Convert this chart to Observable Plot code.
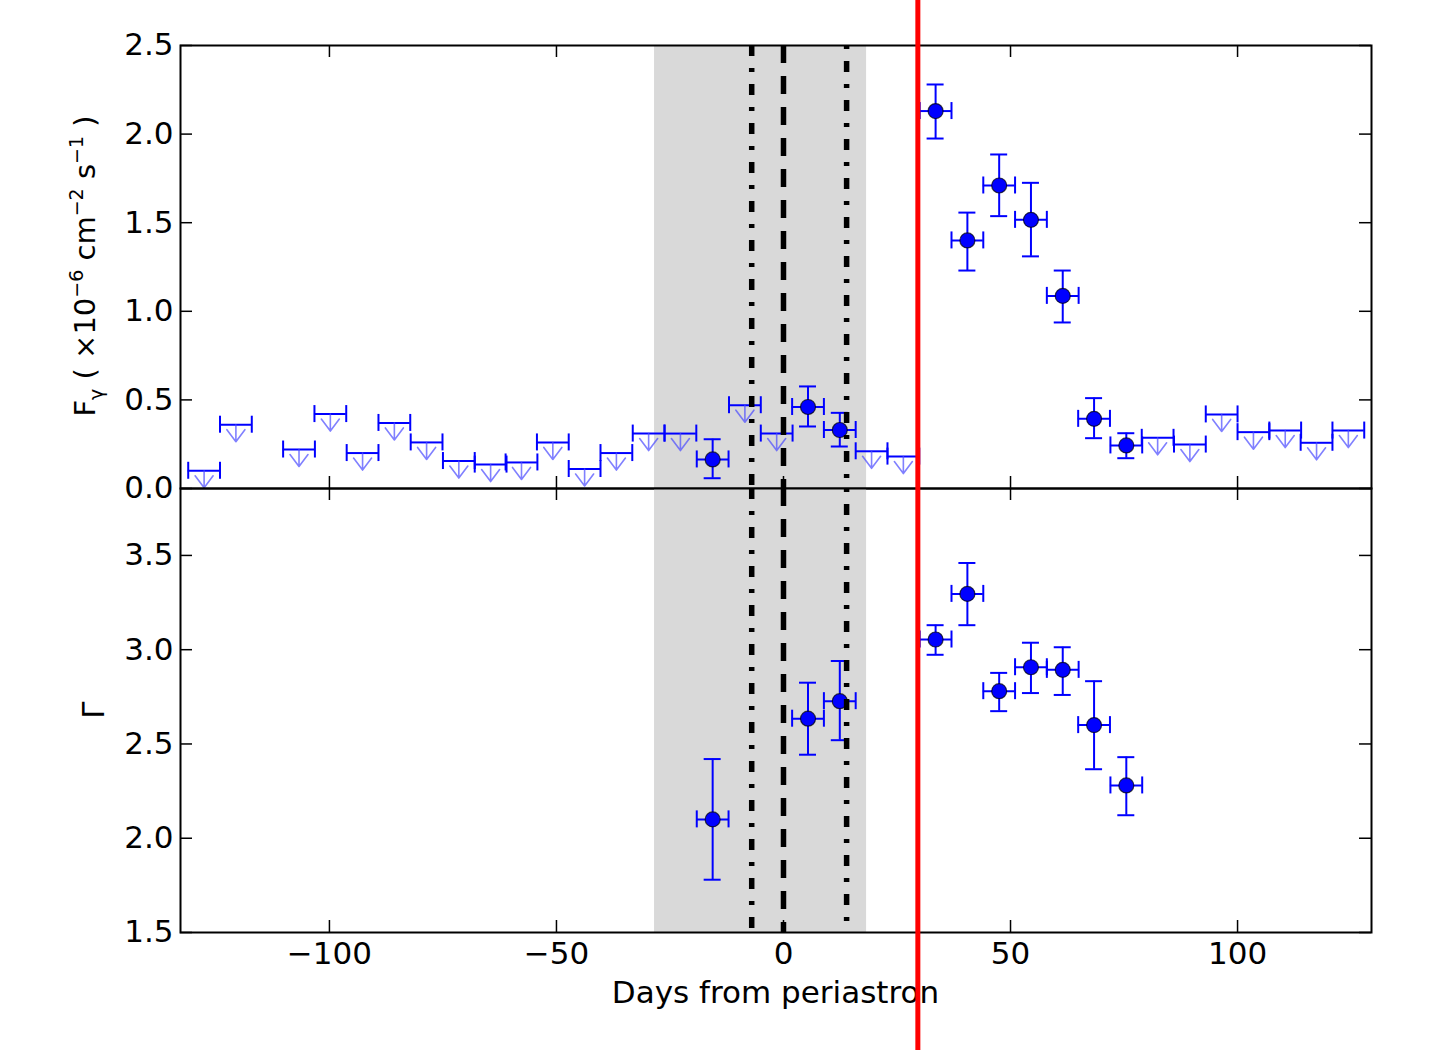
<!DOCTYPE html>
<html><head><meta charset="utf-8">
<script src="https://cdn.jsdelivr.net/npm/d3@7"></script>
<script src="https://cdn.jsdelivr.net/npm/@observablehq/plot@0.6"></script>
<style>
html,body{margin:0;padding:0;background:#fff;}
#wrap{position:relative;width:1449px;height:1050px;overflow:hidden;background:#fff;}
#wrap svg{display:block;}
</style></head><body><div id="wrap"></div>
<script>
// ---- data ----
// upper limits on flux (bin centres, days; values in 1e-6 cm^-2 s^-1)
const ulDays = [-127.6, -120.6, -106.7, -99.8, -92.7, -85.7, -78.6, -71.5, -64.5, -57.7, -50.8, -43.8, -36.8, -29.7, -22.7, -8.5, -1.5, 19.4, 26.4, 82.4, 89.5, 96.5, 103.5, 110.5, 117.4, 124.4];
const ulFlux = [0.10, 0.36, 0.22, 0.42, 0.20, 0.37, 0.26, 0.155, 0.135, 0.147, 0.26, 0.11, 0.20, 0.31, 0.31, 0.47, 0.31, 0.21, 0.18, 0.286, 0.248, 0.418, 0.318, 0.327, 0.258, 0.327];
// detections
const detDays  = [-15.6, 5.4, 12.4, 33.5, 40.5, 47.5, 54.5, 61.5, 68.4, 75.5];
const flux     = [0.164, 0.46, 0.33, 2.13, 1.40, 1.71, 1.516, 1.087, 0.393, 0.243];
const fluxLo   = [0.058, 0.35, 0.237, 1.975, 1.23, 1.537, 1.31, 0.937, 0.284, 0.171];
const fluxHi   = [0.278, 0.576, 0.427, 2.28, 1.557, 1.885, 1.725, 1.23, 0.51, 0.312];
const gamma    = [2.10, 2.634, 2.727, 3.054, 3.296, 2.78, 2.907, 2.893, 2.60, 2.28];
const gammaLo  = [1.78, 2.443, 2.52, 2.973, 3.13, 2.674, 2.77, 2.76, 2.366, 2.122];
const gammaHi  = [2.42, 2.825, 2.94, 3.13, 3.46, 2.877, 3.037, 3.013, 2.833, 2.43];
const halfBin = 3.5;
// reference markers (days)
const bandStart = -28.4, bandEnd = 18.3;
const dashDotDay = -7.0, dashedDay = 0, dottedDay = 13.9;
const flareDay = 29.7;
// axes
const xDomain = [-132.8, 129.5];
const xTicks = [-100, -50, 0, 50, 100];
const fluxDomain = [0, 2.5];
const fluxTicks = [0, 0.5, 1.0, 1.5, 2.0, 2.5];
const gammaDomain = [1.5, 3.855];
const gammaTicks = [1.5, 2.0, 2.5, 3.0, 3.5];

// ---- tables ----
const ul = ulDays.map((d, i) => ({x: d, y: ulFlux[i]}));
const det = detDays.map((d, i) => ({x: d, f: flux[i], flo: fluxLo[i], fhi: fluxHi[i], g: gamma[i], glo: gammaLo[i], ghi: gammaHi[i]}));

const BLUE = "#0000ff";
const W = 1449, ML = 180, MR = 78, TICK = 12;
const FONT = "DejaVu Sans, sans-serif";

// matplotlib-like upper-limit arrow: stem with a wide V head
const ulArrow = {
  draw(context, l) {
    const w = 9, h = 12;
    context.moveTo(0, 0);
    context.lineTo(0, -l);
    context.moveTo(-w, -l + h);
    context.lineTo(0, -l);
    context.lineTo(w, -l + h);
  }
};

function errMarks(yk, lo, hi) {
  return [
    Plot.ruleY(det, {y: yk, x1: d => d.x - halfBin, x2: d => d.x + halfBin, stroke: BLUE, strokeWidth: 2}),
    Plot.ruleX(det, {x: "x", y1: lo, y2: hi, stroke: BLUE, strokeWidth: 2}),
    Plot.ruleY(det, {y: lo, x1: "x", x2: "x", insetLeft: -8.5, insetRight: -8.5, stroke: BLUE, strokeWidth: 2}),
    Plot.ruleY(det, {y: hi, x1: "x", x2: "x", insetLeft: -8.5, insetRight: -8.5, stroke: BLUE, strokeWidth: 2}),
    Plot.ruleX(det, {x: d => d.x - halfBin, y1: yk, y2: yk, insetTop: -8.5, insetBottom: -8.5, stroke: BLUE, strokeWidth: 2}),
    Plot.ruleX(det, {x: d => d.x + halfBin, y1: yk, y2: yk, insetTop: -8.5, insetBottom: -8.5, stroke: BLUE, strokeWidth: 2}),
    Plot.dot(det, {x: "x", y: yk, r: 7.5, fill: BLUE, stroke: "#000", strokeWidth: 1.2, strokeOpacity: 0.7})
  ];
}

function panel({height, marginTop, marginBottom, domain, ticks, data, showX}) {
  const pw = W - ML - MR;
  const ph = height - marginTop - marginBottom;
  return Plot.plot({
    width: W, height, marginLeft: ML, marginRight: MR, marginTop, marginBottom,
    x: {domain: xDomain, axis: null},
    y: {domain, axis: null},
    style: {fontFamily: FONT, fontSize: "31px", background: "white", overflow: "visible", color: "#000"},
    marks: [
      Plot.rectX([{a: bandStart, b: bandEnd}], {x1: "a", x2: "b", fill: "#d9d9d9"}),
      ...data,
      Plot.ruleX([dashDotDay], {stroke: "#000", strokeWidth: 5.5, strokeDasharray: "11,12,4,12"}),
      Plot.ruleX([dashedDay], {stroke: "#000", strokeWidth: 5.5, strokeDasharray: "18,13"}),
      Plot.ruleX([dottedDay], {stroke: "#000", strokeWidth: 5.5, strokeDasharray: "4,12,11,12"}),
      Plot.ruleY(ticks, {insetRight: pw - TICK, stroke: "#000", strokeWidth: 1.5}),
      Plot.ruleY(ticks, {insetLeft: pw - TICK, stroke: "#000", strokeWidth: 1.5}),
      Plot.ruleX(xTicks, {insetBottom: ph - TICK, stroke: "#000", strokeWidth: 1.5}),
      Plot.ruleX(xTicks, {insetTop: ph - TICK, stroke: "#000", strokeWidth: 1.5}),
      Plot.frame({stroke: "#000", strokeWidth: 2}),
      Plot.axisY(ticks, {tickSize: 0, tickPadding: 7, tickFormat: d3.format(".1f"), fontSize: 31, fill: "#000", label: null}),
      showX ? Plot.axisX(xTicks, {tickSize: 0, tickPadding: 9, fontSize: 31, fill: "#000", label: null}) : null
    ]
  });
}

const topChart = panel({
  height: 488, marginTop: 45, marginBottom: 0, domain: fluxDomain, ticks: fluxTicks, showX: false,
  data: [
    Plot.ruleY(ul, {y: "y", x1: d => d.x - halfBin, x2: d => d.x + halfBin, stroke: BLUE, strokeWidth: 2}),
    Plot.ruleX(ul, {x: d => d.x - halfBin, y1: "y", y2: "y", insetTop: -8.5, insetBottom: -8.5, stroke: BLUE, strokeWidth: 2}),
    Plot.ruleX(ul, {x: d => d.x + halfBin, y1: "y", y2: "y", insetTop: -8.5, insetBottom: -8.5, stroke: BLUE, strokeWidth: 2}),
    Plot.vector(ul, {x: "x", y: "y", length: 17, rotate: 180, anchor: "start", shape: ulArrow, stroke: "#4a4aff", strokeWidth: 1.6, strokeOpacity: 0.7}),
    ...errMarks("f", "flo", "fhi")
  ]
});
const bottomChart = panel({
  height: 562, marginTop: 0, marginBottom: 118, domain: gammaDomain, ticks: gammaTicks, showX: true,
  data: errMarks("g", "glo", "ghi")
});

const wrap = document.getElementById("wrap");
wrap.appendChild(topChart);
wrap.appendChild(bottomChart);

// y label (top)
const tl = d3.select(topChart).append("text")
  .attr("transform", "translate(95,266) rotate(-90)")
  .attr("text-anchor", "middle").attr("font-family", FONT).attr("font-size", 29).attr("fill", "#000");
const parts = [["F", 0, 29], ["γ", 8, 19], [" ( ×10", -8, 29], ["−6", -12, 19], [" cm", 12, 29], ["−2", -12, 19], [" s", 12, 29], ["−1", -12, 19], [" )", 12, 29]];
parts.forEach(([t, dy, fs]) => tl.append("tspan").attr("dy", dy).attr("font-size", fs).text(t));

// y label (bottom)
d3.select(bottomChart).append("text")
  .attr("transform", `translate(104,${(562 - 118) / 2}) rotate(-90)`)
  .attr("text-anchor", "middle").attr("font-family", FONT).attr("font-size", 31).attr("fill", "#000")
  .text("Γ");
// x label
d3.select(bottomChart).append("text")
  .attr("x", (ML + W - MR) / 2).attr("y", 515)
  .attr("text-anchor", "middle").attr("font-family", FONT).attr("font-size", 31).attr("fill", "#000")
  .text("Days from periastron");

// red line across the whole figure, positioned via the x scale
const xr = topChart.scale("x").apply(flareDay);
const ov = d3.select(wrap).append("svg")
  .attr("width", W).attr("height", 1050)
  .style("position", "absolute").style("left", 0).style("top", 0).style("pointer-events", "none");
ov.append("line").attr("x1", xr).attr("x2", xr).attr("y1", 0).attr("y2", 1050)
  .attr("stroke", "#ff0000").attr("stroke-width", 5);
</script></body></html>
